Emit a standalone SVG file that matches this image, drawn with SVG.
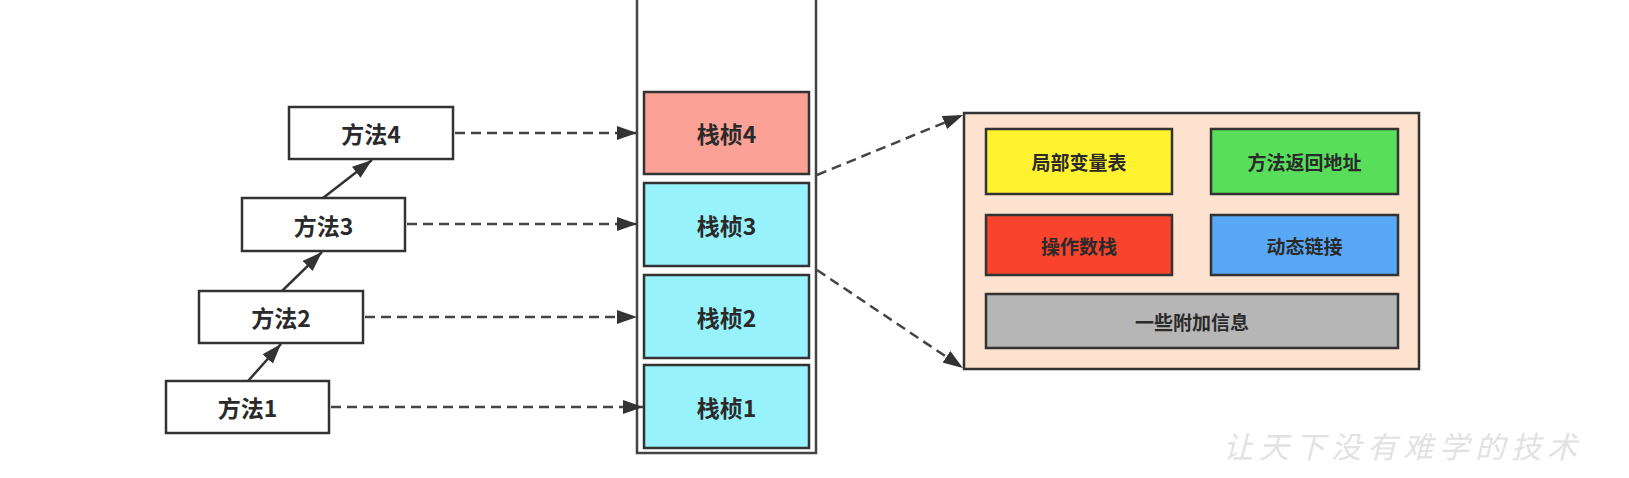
<svg xmlns="http://www.w3.org/2000/svg" width="1629" height="478" viewBox="0 0 1629 478">
<style>
.box{stroke:#333;stroke-width:2.5}
.m{fill:#fff}
.t{font-family:"Noto Sans CJK SC","Noto Sans",sans-serif;fill:#2a2a2a;text-anchor:middle;dominant-baseline:central}
.big{font-size:23px;font-weight:bold}
.small{font-size:19px;font-weight:bold}
.solid{stroke:#333;stroke-width:2.5;fill:none}
.dash{stroke:#444;stroke-width:2.5;fill:none;stroke-dasharray:10 6}
</style>
<defs>
<marker id="ah" markerUnits="userSpaceOnUse" markerWidth="20" markerHeight="14" refX="20" refY="7" orient="auto">
<path d="M0,0 L20,7 L0,14 z" fill="#333"/>
</marker>
</defs>
<rect width="1629" height="478" fill="#fff"/>

<g id="stack">
<rect x="637" y="-6" width="179" height="459" fill="#fff" stroke="#444" stroke-width="2.5"/>
</g>
<g id="frame4"><rect class="box" x="644" y="92" width="165" height="82" fill="#FBA196"/><text class="t big" x="726.5" y="133">栈桢4</text></g>
<g id="frame3"><rect class="box" x="644" y="183" width="165" height="83" fill="#98F2FB"/><text class="t big" x="726.5" y="224.5">栈桢3</text></g>
<g id="frame2"><rect class="box" x="644" y="275" width="165" height="83" fill="#98F2FB"/><text class="t big" x="726.5" y="316.5">栈桢2</text></g>
<g id="frame1"><rect class="box" x="644" y="365" width="165" height="83" fill="#98F2FB"/><text class="t big" x="726.5" y="406.5">栈桢1</text></g>

<g id="m4"><rect class="box m" x="289" y="107" width="164" height="52"/><text class="t big" x="371" y="133">方法4</text></g>
<g id="m3"><rect class="box m" x="242" y="198" width="163" height="53"/><text class="t big" x="323.5" y="224.5">方法3</text></g>
<g id="m2"><rect class="box m" x="199" y="291" width="164" height="52"/><text class="t big" x="281" y="317">方法2</text></g>
<g id="m1"><rect class="box m" x="166" y="381" width="163" height="52"/><text class="t big" x="247.5" y="407">方法1</text></g>

<g id="detail">
<rect class="box" x="964" y="113" width="455" height="256" fill="#FDE3CF"/>
</g>
<g id="locals"><rect class="box" x="986" y="129" width="186" height="65" fill="#FFF22E"/><text class="t small" x="1079" y="161.5">局部变量表</text></g>
<g id="ret"><rect class="box" x="1211" y="129" width="187" height="65" fill="#58DE5A"/><text class="t small" x="1304.5" y="161.5">方法返回地址</text></g>
<g id="opstack"><rect class="box" x="986" y="215" width="186" height="60" fill="#F8432D"/><text class="t small" x="1079" y="245">操作数栈</text></g>
<g id="dyn"><rect class="box" x="1211" y="215" width="187" height="60" fill="#58A8F6"/><text class="t small" x="1304.5" y="245">动态链接</text></g>
<g id="extra"><rect class="box" x="986" y="294" width="412" height="54" fill="#B6B6B6"/><text class="t small" x="1192" y="321">一些附加信息</text></g>

<g id="connectors">
<line class="solid" x1="248" y1="381" x2="281" y2="344" marker-end="url(#ah)"/>
<line class="solid" x1="282" y1="291" x2="322" y2="252" marker-end="url(#ah)"/>
<line class="solid" x1="323" y1="198" x2="372" y2="160" marker-end="url(#ah)"/>
<line class="dash" x1="455" y1="133" x2="637" y2="133" marker-end="url(#ah)"/>
<line class="dash" x1="407" y1="224" x2="637" y2="224" marker-end="url(#ah)"/>
<line class="dash" x1="365" y1="317" x2="637" y2="317" marker-end="url(#ah)"/>
<line class="dash" x1="331" y1="407" x2="643" y2="407" marker-end="url(#ah)"/>
<line class="dash" x1="817" y1="175" x2="963" y2="115" marker-end="url(#ah)"/>
<line class="dash" x1="817" y1="270" x2="963" y2="368" marker-end="url(#ah)"/>
</g>

<text x="1223" y="458" font-family="Noto Sans CJK SC, sans-serif" font-size="30" letter-spacing="6" fill="#e2e2e2" font-style="italic">让天下没有难学的技术</text>
</svg>
